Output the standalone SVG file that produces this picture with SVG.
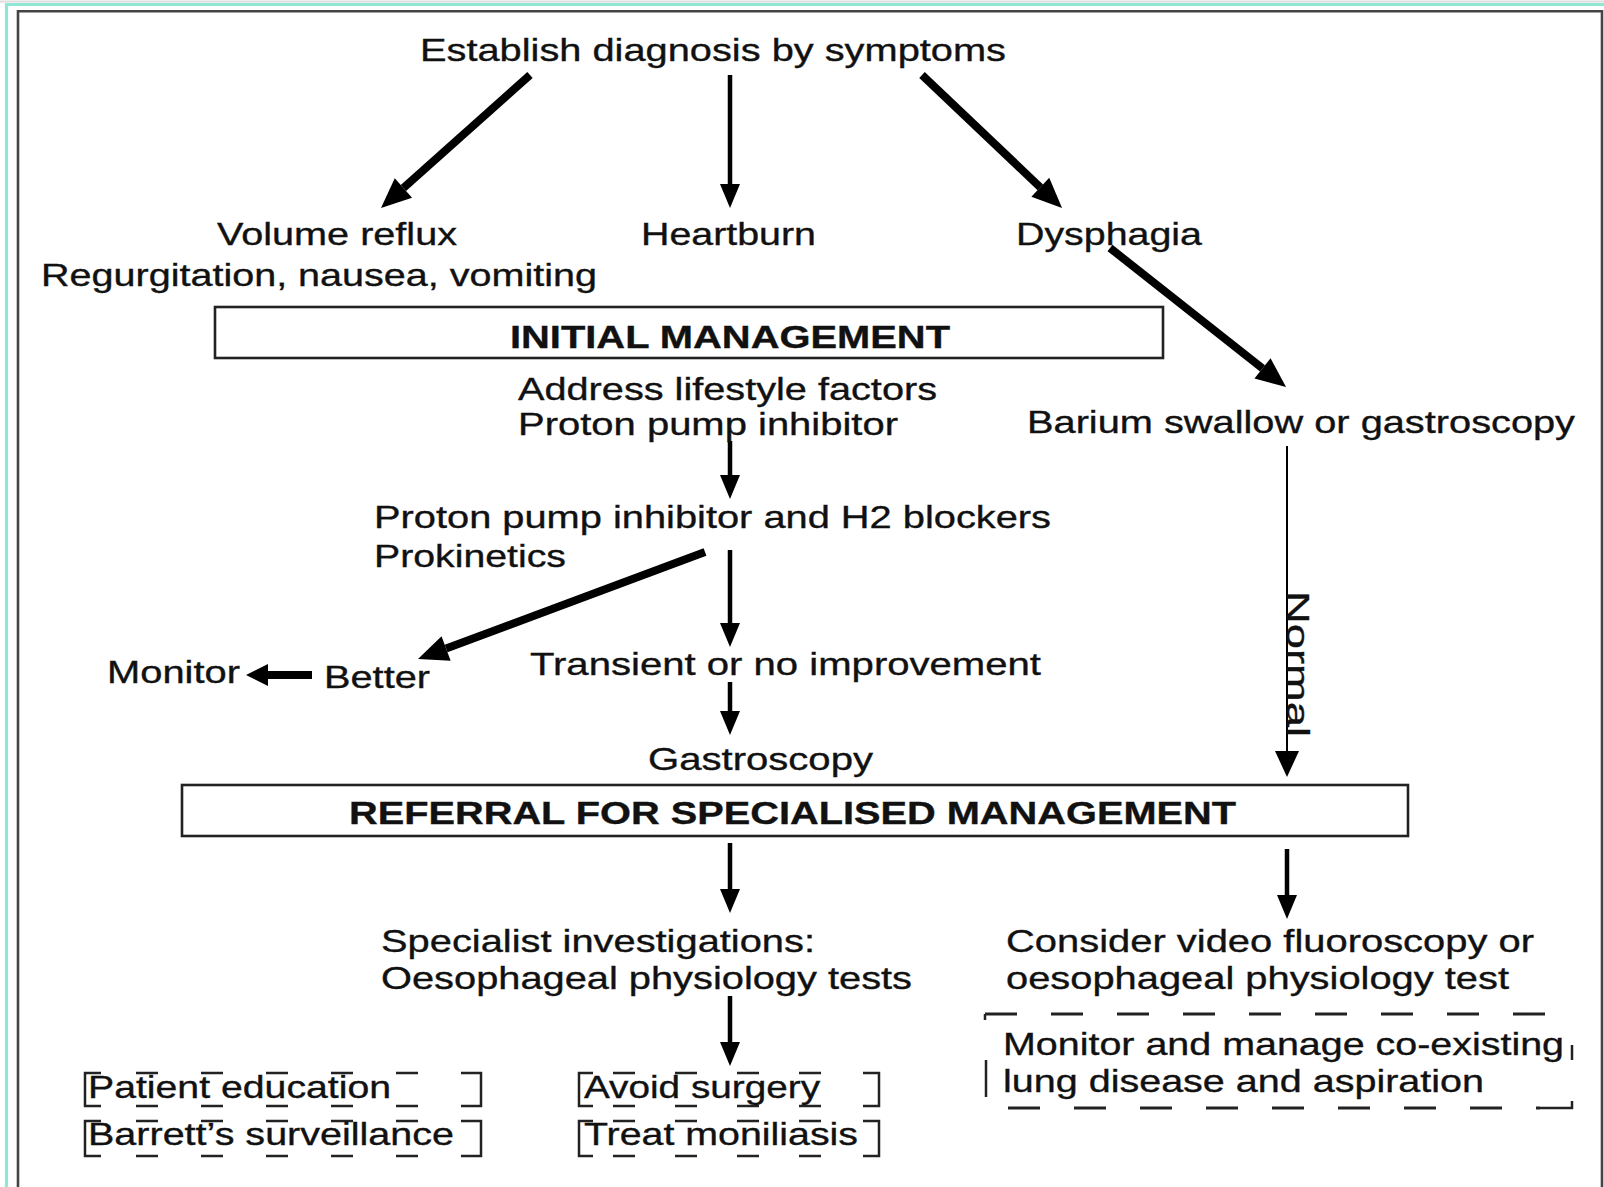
<svg xmlns="http://www.w3.org/2000/svg" width="1604" height="1187" viewBox="0 0 1604 1187">
<style>
.t{font-family:"Liberation Sans",Arial,Helvetica,sans-serif;font-size:32px;fill:#111;stroke:#111;stroke-width:0.35px;}
.b{font-weight:bold;}
.frame{fill:none;stroke:#444;stroke-width:2.6;}
.box{fill:#fff;stroke:#222;stroke-width:2.6;}
.a{fill:none;stroke:#000;stroke-width:4.5;}
.ak{fill:none;stroke:#000;stroke-width:8;}
.an{fill:none;stroke:#000;stroke-width:2;}
.br{fill:none;stroke:#222;stroke-width:2.5;}
.dl{fill:none;stroke:#222;stroke-width:2.5;stroke-dasharray:22 43;}
.dm{fill:none;stroke:#222;stroke-width:2.5;stroke-dasharray:22 40;}
.dr{fill:none;stroke:#222;stroke-width:3;stroke-dasharray:32 34;}
</style>
<defs>
<marker id="hS" markerUnits="userSpaceOnUse" markerWidth="24" markerHeight="20" refX="0" refY="10" orient="auto" overflow="visible"><path d="M0,0 L24,10 L0,20 Z" fill="#000"/></marker>
<marker id="hB" markerUnits="userSpaceOnUse" markerWidth="30" markerHeight="26" refX="0" refY="13" orient="auto" overflow="visible"><path d="M0,0 L30,13 L0,26 Z" fill="#000"/></marker>
<marker id="hN" markerUnits="userSpaceOnUse" markerWidth="26" markerHeight="24" refX="0" refY="12" orient="auto" overflow="visible"><path d="M0,0 L26,12 L0,24 Z" fill="#000"/></marker>
<marker id="hM" markerUnits="userSpaceOnUse" markerWidth="22" markerHeight="22" refX="0" refY="11" orient="auto" overflow="visible"><path d="M0,0 L22,11 L0,22 Z" fill="#000"/></marker>
</defs>
<rect width="1604" height="1187" fill="#fff"/>
<g id="frame">
<path d="M0,1.5 H1604" stroke="#ddd" stroke-width="2" fill="none"/>
<path d="M6.5,1187 V4.5 H1604" stroke="#8fe6d2" stroke-width="3.2" fill="none"/>
<path class="frame" d="M18,1187 V11.3 H1602 V1187"/>
</g>
<g id="connectors">
<path class="ak" d="M530,75 L403.4,188" marker-end="url(#hB)"/>
<path class="a" d="M730,75 V184" marker-end="url(#hS)"/>
<path class="ak" d="M922,75 L1040.3,187.3" marker-end="url(#hB)"/>
<path class="ak" d="M1110,248 L1262.5,368.4" marker-end="url(#hB)"/>
<path class="a" d="M730,441 V475" marker-end="url(#hS)"/>
<path class="an" d="M1287,446 V751" marker-end="url(#hN)"/>
<path class="ak" d="M705,552 L446.1,648.5" marker-end="url(#hB)"/>
<path class="a" d="M730,550 V623" marker-end="url(#hS)"/>
<path class="a" d="M730,682 V711" marker-end="url(#hS)"/>
<path class="ak" d="M312,675 H268" marker-end="url(#hM)"/>
<path class="a" d="M730,843 V889" marker-end="url(#hS)"/>
<path class="a" d="M1287,849 V895" marker-end="url(#hS)"/>
<path class="a" d="M730,996 V1042" marker-end="url(#hS)"/>
<text class="t" transform="translate(1287,591) rotate(90)" textLength="146" lengthAdjust="spacingAndGlyphs">Normal</text>
</g>
<g id="n-establish"><text class="t" x="420" y="61" textLength="586" lengthAdjust="spacingAndGlyphs">Establish diagnosis by symptoms</text></g>
<g id="n-volume">
<text class="t" x="217" y="245" textLength="240" lengthAdjust="spacingAndGlyphs">Volume reflux</text>
<text class="t" x="41" y="286" textLength="556" lengthAdjust="spacingAndGlyphs">Regurgitation, nausea, vomiting</text>
</g>
<g id="n-heartburn"><text class="t" x="641" y="245" textLength="175" lengthAdjust="spacingAndGlyphs">Heartburn</text></g>
<g id="n-dysphagia"><text class="t" x="1016" y="245" textLength="186" lengthAdjust="spacingAndGlyphs">Dysphagia</text></g>
<g id="n-initial">
<rect class="box" x="215" y="307" width="948" height="51"/>
<text class="t b" x="510" y="348" textLength="440" lengthAdjust="spacingAndGlyphs">INITIAL MANAGEMENT</text>
</g>
<g id="n-lifestyle">
<text class="t" x="518" y="400" textLength="419" lengthAdjust="spacingAndGlyphs">Address lifestyle factors</text>
<text class="t" x="518" y="435" textLength="380" lengthAdjust="spacingAndGlyphs">Proton pump inhibitor</text>
</g>
<g id="n-barium"><text class="t" x="1027" y="433" textLength="548" lengthAdjust="spacingAndGlyphs">Barium swallow or gastroscopy</text></g>
<g id="n-ppi-h2">
<text class="t" x="374" y="528" textLength="677" lengthAdjust="spacingAndGlyphs">Proton pump inhibitor and H2 blockers</text>
<text class="t" x="374" y="567" textLength="192" lengthAdjust="spacingAndGlyphs">Prokinetics</text>
</g>
<g id="n-monitor"><text class="t" x="107" y="683" textLength="133" lengthAdjust="spacingAndGlyphs">Monitor</text></g>
<g id="n-better"><text class="t" x="324" y="688" textLength="106" lengthAdjust="spacingAndGlyphs">Better</text></g>
<g id="n-transient"><text class="t" x="530" y="675" textLength="511" lengthAdjust="spacingAndGlyphs">Transient or no improvement</text></g>
<g id="n-gastroscopy"><text class="t" x="648" y="770" textLength="225" lengthAdjust="spacingAndGlyphs">Gastroscopy</text></g>
<g id="n-referral">
<rect class="box" x="182" y="785" width="1226" height="51"/>
<text class="t b" x="349" y="824" textLength="887" lengthAdjust="spacingAndGlyphs">REFERRAL FOR SPECIALISED MANAGEMENT</text>
</g>
<g id="n-specialist">
<text class="t" x="381" y="952" textLength="434" lengthAdjust="spacingAndGlyphs">Specialist investigations:</text>
<text class="t" x="381" y="989" textLength="531" lengthAdjust="spacingAndGlyphs">Oesophageal physiology tests</text>
</g>
<g id="n-consider">
<text class="t" x="1006" y="952" textLength="528" lengthAdjust="spacingAndGlyphs">Consider video fluoroscopy or</text>
<text class="t" x="1006" y="989" textLength="503" lengthAdjust="spacingAndGlyphs">oesophageal physiology test</text>
</g>
<g id="n-comorbid">
<path class="dr" d="M985,1014 H1545"/>
<path class="br" stroke-width="3" d="M985,1014 V1020 M986,1060 V1097 M1572,1045 V1060 M1540,1108 H1572 V1101"/>
<path class="dr" d="M1008,1108 H1540"/>
<text class="t" x="1003" y="1055" textLength="561" lengthAdjust="spacingAndGlyphs">Monitor and manage co-existing</text>
<text class="t" x="1003" y="1092" textLength="481" lengthAdjust="spacingAndGlyphs">lung disease and aspiration</text>
</g>
<g id="n-patient-education">
<path class="br" d="M101,1073 H85 V1106 H101 M465,1073 H481 V1106 H465"/>
<path class="dl" d="M136,1073 H465 M136,1106 H465"/>
<text class="t" x="88" y="1098" textLength="303" lengthAdjust="spacingAndGlyphs">Patient education</text>
</g>
<g id="n-barretts">
<path class="br" d="M101,1121 H85 V1156 H101 M465,1121 H481 V1156 H465"/>
<path class="dl" d="M136,1121 H465 M136,1156 H465"/>
<text class="t" x="88" y="1145" textLength="366" lengthAdjust="spacingAndGlyphs">Barrett’s surveillance</text>
</g>
<g id="n-avoid-surgery">
<path class="br" d="M593,1073 H579 V1106 H593 M863,1073 H879 V1106 H863"/>
<path class="dm" d="M613,1073 H861 M613,1106 H861"/>
<text class="t" x="584" y="1098" textLength="236" lengthAdjust="spacingAndGlyphs">Avoid surgery</text>
</g>
<g id="n-moniliasis">
<path class="br" d="M593,1121 H579 V1156 H593 M863,1121 H879 V1156 H863"/>
<path class="dm" d="M613,1121 H861 M613,1156 H861"/>
<text class="t" x="584" y="1145" textLength="274" lengthAdjust="spacingAndGlyphs">Treat moniliasis</text>
</g>
</svg>
